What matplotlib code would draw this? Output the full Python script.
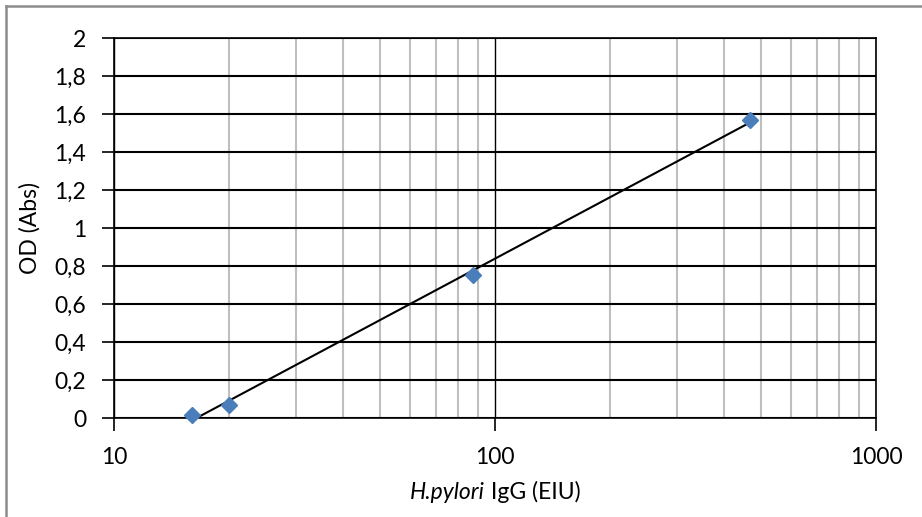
import numpy as np
import matplotlib.pyplot as plt
from matplotlib.lines import Line2D
from matplotlib.ticker import FixedLocator, FuncFormatter, NullFormatter

# Standard curve points
conc = [16, 20, 87.5, 467]
od = [0.02, 0.07, 0.755, 1.57]

y_ticks = [0, 0.2, 0.4, 0.6, 0.8, 1.0, 1.2, 1.4, 1.6, 1.8, 2.0]
x_ticks = [10, 100, 1000]

plt.rcParams["font.family"] = ["Lato", "DejaVu Sans"]

fig = plt.figure(figsize=(9.22, 5.17), dpi=100)
W, H = 922, 517
ax = fig.add_axes([114 / W, 1 - 418.3 / H, 762 / W, 380 / H])

# chart border (only top and left edges visible in the crop)
fig.lines.append(Line2D([6 / W, 1.0], [1 - 5.5 / H, 1 - 5.5 / H], transform=fig.transFigure,
                        color="#8c8c8c", linewidth=1.8))
fig.lines.append(Line2D([6 / W, 6 / W], [0, 1 - 5.5 / H], transform=fig.transFigure,
                        color="#8c8c8c", linewidth=1.8))

# log fit (trendline)
k, b = np.polyfit(np.log10(conc), od, 1)
xs = np.array([min(conc), max(conc)])
ax.plot(xs, k * np.log10(xs) + b, color="black", linewidth=1.5, zorder=3)

ax.plot(conc, od, linestyle="none", marker="D", markersize=8.5,
        color="#4a7ebb", zorder=4, clip_on=False)

ax.set_xscale("log")
ax.set_xlim(10, 1000)
ax.set_ylim(0, 2)

ax.xaxis.set_major_locator(FixedLocator(x_ticks))
ax.xaxis.set_major_formatter(FuncFormatter(lambda v, p: f"{v:.0f}"))
minor = [m * d for d in (10, 100) for m in range(2, 10)]
ax.xaxis.set_minor_locator(FixedLocator(minor))
ax.xaxis.set_minor_formatter(NullFormatter())
ax.yaxis.set_major_locator(FixedLocator(y_ticks))
ax.yaxis.set_major_formatter(FuncFormatter(lambda v, p: f"{v:g}".replace(".", ",")))

ax.grid(True, which="minor", axis="x", color="#bfbfbf", linewidth=1.5)
ax.grid(True, which="major", axis="x", color="black", linewidth=1.0)
ax.grid(True, which="major", axis="y", color="black", linewidth=1.5)
ax.set_axisbelow(True)

for s in ax.spines.values():
    s.set_color("black")
    s.set_linewidth(1.2)

ax.tick_params(axis="both", which="major", direction="out", length=9, width=1.2,
               labelsize=16.5, colors="black")
ax.tick_params(axis="y", pad=11)
ax.tick_params(axis="x", pad=12)
ax.tick_params(axis="x", which="minor", length=0)

# x label: italic species name + plain text, centred as a whole
renderer = fig.canvas.get_renderer()
t1 = fig.text(0, 0, "H.pylori", fontsize=16.5, style="italic", va="baseline")
t2 = fig.text(0, 0, " IgG (EIU)", fontsize=16.5, va="baseline")
w1 = t1.get_window_extent(renderer).width
w2 = t2.get_window_extent(renderer).width
x0 = 495 - (w1 + w2) / 2
base = 1 - 499 / H
t1.set_position((x0 / W, base))
t2.set_position(((x0 + w1) / W, base))

fig.text(30 / W, 1 - 228 / H, "OD (Abs)", fontsize=16.5, rotation=90,
         ha="center", va="center")

plt.savefig("out.png", dpi=100)
plt.close()
